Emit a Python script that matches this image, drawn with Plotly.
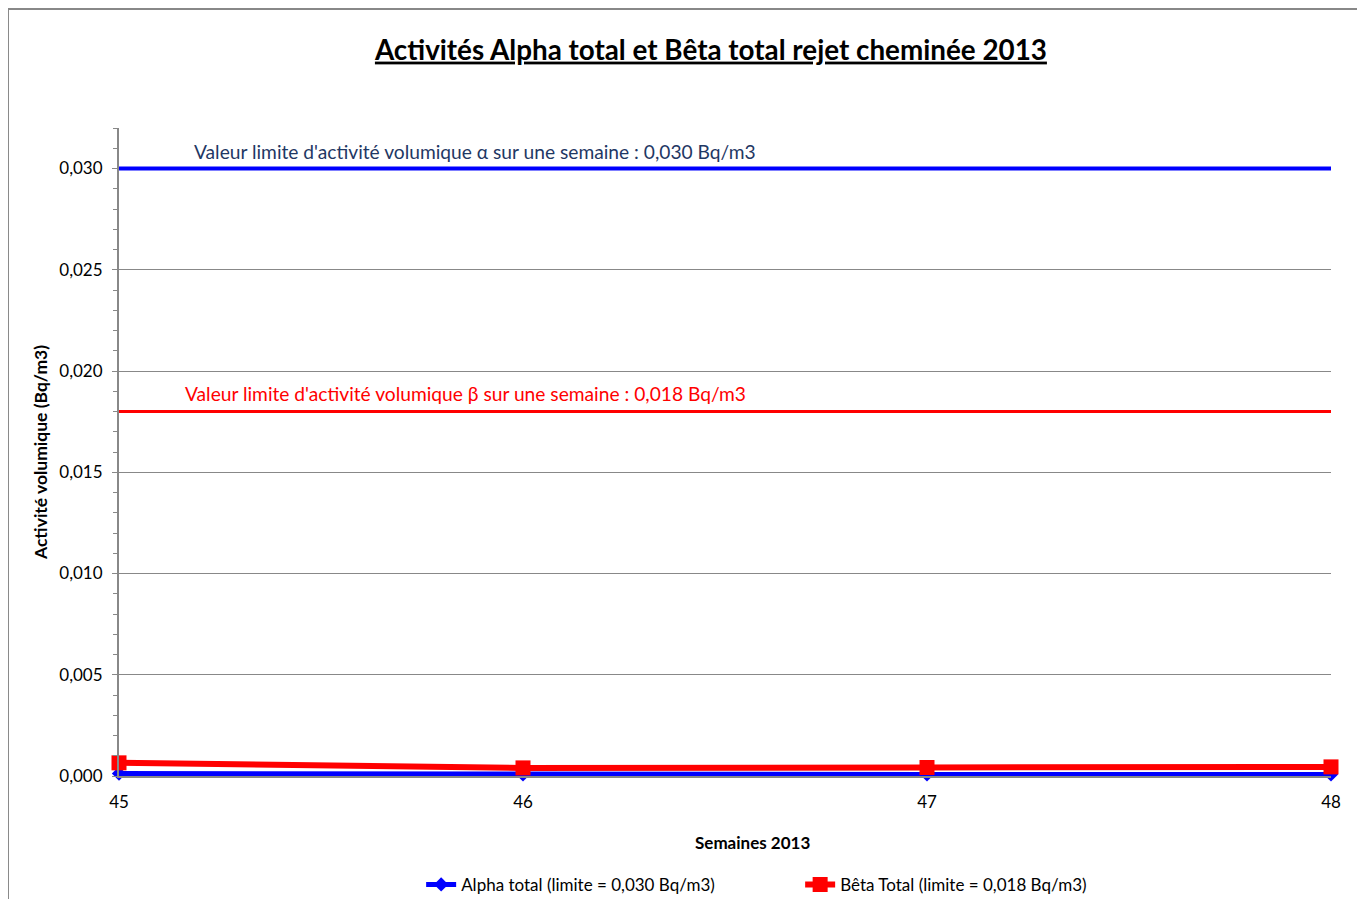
import plotly.graph_objects as go

# Data
semaines = [45, 46, 47, 48]
alpha_total = [0.00012, 0.00008, 0.00008, 0.00008]
beta_total = [0.00065, 0.0004, 0.00042, 0.00045]
limite_alpha = 0.030
limite_beta = 0.018

FONT = "Lato"

fig = go.Figure()

# Limit lines (drawn as series spanning the weeks)
fig.add_trace(go.Scatter(x=[semaines[0], semaines[-1]], y=[limite_alpha, limite_alpha],
                         mode="lines", line=dict(color="#0000FF", width=4),
                         showlegend=False, hoverinfo="skip"))
fig.add_trace(go.Scatter(x=[semaines[0], semaines[-1]], y=[limite_beta, limite_beta],
                         mode="lines", line=dict(color="#FF0000", width=3),
                         showlegend=False, hoverinfo="skip"))

fig.add_trace(go.Scatter(x=semaines, y=alpha_total, mode="lines+markers",
                         name="Alpha total (limite = 0,030 Bq/m3)",
                         line=dict(color="#0000FF", width=5), cliponaxis=False,
                         marker=dict(symbol="diamond", size=11, color="#0000FF")))
fig.add_trace(go.Scatter(x=semaines, y=beta_total, mode="lines+markers",
                         name="Bêta Total (limite = 0,018 Bq/m3)",
                         line=dict(color="#FF0000", width=6), cliponaxis=False,
                         marker=dict(symbol="square", size=15, color="#FF0000")))

fig.add_annotation(x=0.0605, y=limite_alpha, xref="paper", yref="y", yshift=17,
                   text="Valeur limite d'activité volumique α sur une semaine : 0,030 Bq/m3",
                   showarrow=False, xanchor="left",
                   font=dict(family=FONT, size=19.2, color="#1F3864"))
fig.add_annotation(x=0.053, y=limite_beta, xref="paper", yref="y", yshift=18,
                   text="Valeur limite d'activité volumique β sur une semaine : 0,018 Bq/m3",
                   showarrow=False, xanchor="left",
                   font=dict(family=FONT, size=19.2, color="#FF0000"))

# axis titles
fig.add_annotation(x=0.5225, y=-0.103, xref="paper", yref="paper",
                   text="<b>Semaines 2013</b>", showarrow=False,
                   xanchor="center", yanchor="middle", font=dict(family=FONT, size=17))
fig.add_annotation(x=-0.0652, y=0.5, xref="paper", yref="paper", textangle=-90,
                   text="<b>Activité volumique (Bq/m3)</b>", showarrow=False,
                   xanchor="center", yanchor="middle", font=dict(family=FONT, size=17.5))

# outer chart frame (top and left edges)
fig.add_shape(type="line", xref="paper", yref="paper", x0=-0.0916, x1=1.03, y0=1.1836, y1=1.1836,
              line=dict(color="#888888", width=2))
fig.add_shape(type="line", xref="paper", yref="paper", x0=-0.0916, x1=-0.0916, y0=1.1836, y1=-0.19,
              line=dict(color="#888888", width=2))

fig.update_layout(
    width=1357, height=891,
    paper_bgcolor="white", plot_bgcolor="white",
    separators=", ",
    margin=dict(l=111, r=34, t=120, b=123, autoexpand=False),
    font=dict(family=FONT, size=17, color="black"),
    title=dict(text="<b><u>Activités Alpha total et Bêta total rejet cheminée 2013</u></b>",
               x=0.518, xanchor="center", y=0.953, yanchor="middle",
               font=dict(family=FONT, size=27.8, color="black")),
    xaxis=dict(range=[45, 48], tickvals=semaines, ticktext=[str(s) for s in semaines],
               showgrid=False, showline=True, linecolor="#888888", linewidth=2,
               ticks="", zeroline=False, ticklabelstandoff=10, automargin=False),
    yaxis=dict(range=[0, 0.032], tick0=0, dtick=0.005, tickformat=".3f",
               showgrid=True, gridcolor="#888888", gridwidth=1,
               showline=True, linecolor="#888888", linewidth=2,
               ticks="outside", ticklen=5, tickcolor="#888888",
               minor=dict(dtick=0.001, ticks="outside", ticklen=4, tickcolor="#888888",
                          showgrid=False),
               zeroline=False, ticklabelstandoff=6, automargin=False),
    legend=dict(orientation="h", x=0.562, xanchor="center", y=-0.168, yanchor="middle",
                font=dict(size=17), entrywidth=334, traceorder="normal"),
)

fig.write_html("out.html")
